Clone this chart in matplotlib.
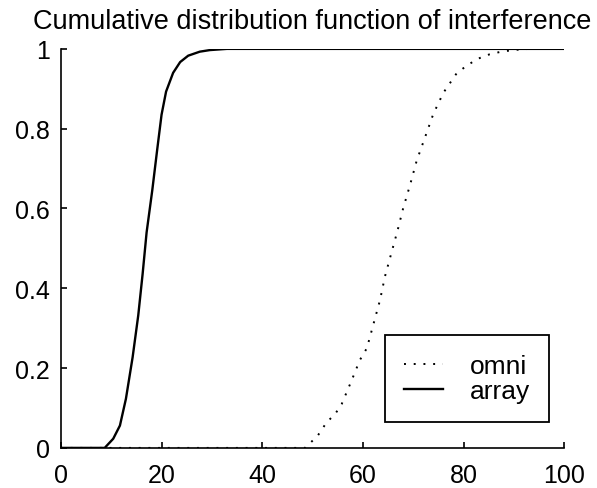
import matplotlib
matplotlib.use("Agg")
import matplotlib.pyplot as plt
from matplotlib.ticker import FormatStrFormatter

plt.rcParams['font.family'] = ['Liberation Sans', 'DejaVu Sans']

# values
array_x = [0, 8.7, 10.4, 11.73, 12.92, 14.25, 15.37, 16.24, 17.03, 18.15, 19.15,
           20.0, 20.9, 22.3, 23.7, 25.3, 27.6, 29.6, 33, 100]
array_y = [0, 0, 0.023, 0.056, 0.123, 0.227, 0.332, 0.436, 0.54, 0.645, 0.749,
           0.835, 0.893, 0.94, 0.967, 0.983, 0.993, 0.997, 1, 1]

omni_x = [0, 48.5, 51.0, 52.8, 54.5, 55.8, 56.8, 57.8, 59.4, 60.8, 62.1, 63.4, 64.4, 65.7,
          66.9, 68.0, 69.4, 70.7, 72.4, 74.0, 76.0, 78.7, 80.9, 82.8, 85.1, 87.5, 89.9, 93, 100]
omni_y = [0, 0, 0.03, 0.064, 0.085, 0.11, 0.14, 0.17, 0.22, 0.25, 0.31, 0.37, 0.43, 0.49,
          0.545, 0.60, 0.66, 0.72, 0.78, 0.837, 0.89, 0.94, 0.96, 0.975, 0.986, 0.993, 0.997, 1, 1]

fig = plt.figure(figsize=(5.97, 4.89), dpi=100)
ax = fig.add_axes([0.102, 0.082, 0.843, 0.816])

ax.plot(omni_x, omni_y, color='black', lw=1.4, linestyle=(0, (1, 4)), label='omni')
ax.plot(array_x, array_y, color='black', lw=1.7, solid_joinstyle='round', label='array')

ax.set_xlim(0, 100)
ax.set_ylim(0, 1)
ax.set_xticks([0, 20, 40, 60, 80, 100])
ax.set_yticks([0, 0.2, 0.4, 0.6, 0.8, 1])
ax.yaxis.set_major_formatter(FormatStrFormatter('%g'))
ax.tick_params(direction='in', length=4, width=1.2, labelsize=18, pad=8)
ax.tick_params(axis='x', pad=11)

for s in ['top', 'right']:
    ax.spines[s].set_visible(False)
for s in ['left', 'bottom']:
    ax.spines[s].set_linewidth(1.2)

ax.set_title('Cumulative distribution function of interference', fontsize=19.5, pad=15)

leg = ax.legend(loc='lower right', bbox_to_anchor=(0.969, 0.066), borderaxespad=0,
                fontsize=19, fancybox=False, edgecolor='black', framealpha=1,
                handlelength=1.5, borderpad=0.7, labelspacing=0.05, handletextpad=1.0)
leg.get_frame().set_linewidth(1.3)

fig.savefig('out.png', dpi=100)
